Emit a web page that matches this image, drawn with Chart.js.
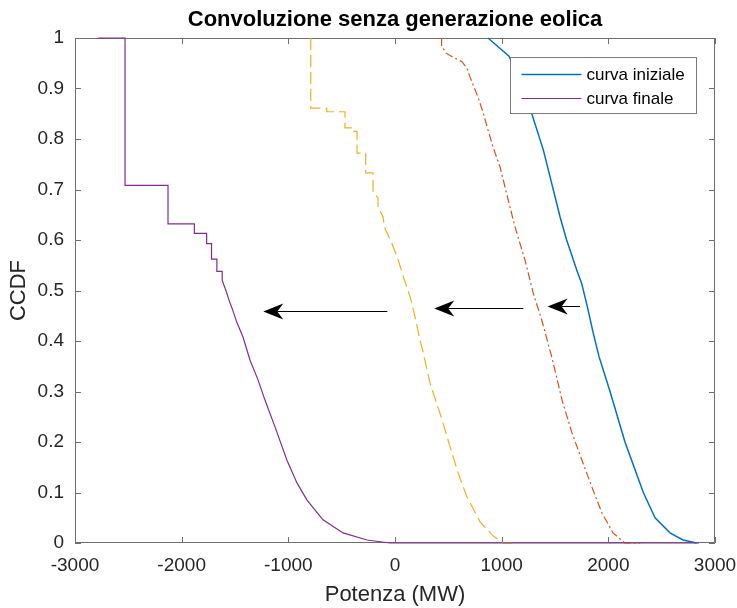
<!DOCTYPE html>
<html>
<head>
<meta charset="utf-8">
<script src="https://cdn.jsdelivr.net/npm/chart.js@4.4.1/dist/chart.umd.min.js"></script>
<style>
    html, body { margin: 0; padding: 0; background: #ffffff; }
</style>
</head>
<body>
<canvas id="ccdf" width="737" height="608"></canvas>
<script>
// Axis ticks
const xTicks = [-3000, -2000, -1000, 0, 1000, 2000, 3000];
const yTicks = [0, 0.1, 0.2, 0.3, 0.4, 0.5, 0.6, 0.7, 0.8, 0.9, 1];

// curva iniziale (blue, solid)
const initialX = [872, 1069, 1180, 1281, 1391, 1469, 1547, 1609, 1703, 1750, 1803, 1859, 1913, 2016, 2156, 2328, 2438, 2578, 2700, 2828];
const initialY = [1, 0.964, 0.915, 0.851, 0.778, 0.712, 0.646, 0.6, 0.541, 0.514, 0.468, 0.415, 0.369, 0.3, 0.2, 0.1, 0.05, 0.02, 0.006, 0];

// first intermediate curve (orange, dash-dot)
const stage1X = [437, 437, 478, 544, 628, 675, 703, 778, 825, 872, 919, 984, 1062, 1125, 1219, 1297, 1375, 1469, 1566, 1659, 1763, 1856, 1941, 2044, 2156, 2300];
const stage1Y = [1, 0.985, 0.97, 0.962, 0.953, 0.94, 0.923, 0.883, 0.853, 0.818, 0.784, 0.745, 0.679, 0.626, 0.56, 0.494, 0.442, 0.369, 0.283, 0.218, 0.158, 0.105, 0.059, 0.02, 0, 0];

// second intermediate curve (yellow, dashed)
const stage2X = [-790, -790, -640, -640, -469, -469, -410, -410, -356, -356, -275, -275, -206, -206, -159, -159, -112, -100, -31, 31, 78, 141, 188, 234, 259, 328, 441, 497, 591, 675, 797, 909, 1013, 1100];
const stage2Y = [1, 0.861, 0.861, 0.854, 0.854, 0.822, 0.822, 0.815, 0.815, 0.772, 0.772, 0.733, 0.733, 0.695, 0.683, 0.665, 0.646, 0.626, 0.594, 0.56, 0.527, 0.488, 0.448, 0.402, 0.382, 0.317, 0.244, 0.204, 0.139, 0.091, 0.042, 0.016, 0, 0];

// curva finale (purple, solid)
const finalX = [-2784, -2531, -2531, -2128, -2128, -1881, -1881, -1766, -1766, -1720, -1720, -1670, -1670, -1620, -1620, -1585, -1556, -1528, -1481, -1425, -1359, -1284, -1219, -1125, -1013, -919, -825, -675, -487, -263, -47, 2850];
const finalY = [1, 1, 0.708, 0.708, 0.632, 0.632, 0.613, 0.613, 0.593, 0.593, 0.562, 0.562, 0.538, 0.538, 0.52, 0.5, 0.481, 0.465, 0.436, 0.408, 0.362, 0.323, 0.283, 0.23, 0.164, 0.119, 0.085, 0.046, 0.02, 0.006, 0, 0];

// shift arrows, in data units
const arrowFrom = [[-72, 0.459], [1203, 0.466], [1734, 0.470]];
const arrowTo = [[-1235, 0.459], [368, 0.466], [1431, 0.470]];

const FONT = "'Liberation Sans', Arial, Helvetica, sans-serif";
const AXIS_COLOR = "#6e6e6e";

function zip(xs, ys) {
    return xs.map((x, i) => ({ x: x, y: ys[i] }));
}

// box + inward ticks on all four sides, drawn under the curves
const framePlugin = {
    id: "frame",
    beforeDatasetsDraw(chart) {
        const { ctx, chartArea: a, scales } = chart;
        const len = 6;
        ctx.save();
        ctx.strokeStyle = AXIS_COLOR;
        ctx.lineWidth = 1;
        ctx.beginPath();
        ctx.rect(a.left + 0.5, a.top + 0.5, a.right - a.left - 1, a.bottom - a.top - 1);
        xTicks.forEach((v) => {
            const px = Math.round(scales.x.getPixelForValue(v)) + 0.5;
            ctx.moveTo(px, a.bottom);
            ctx.lineTo(px, a.bottom - len);
            ctx.moveTo(px, a.top);
            ctx.lineTo(px, a.top + len);
        });
        yTicks.forEach((v) => {
            const py = Math.round(scales.y.getPixelForValue(v)) + 0.5;
            ctx.moveTo(a.left, py);
            ctx.lineTo(a.left + len, py);
            ctx.moveTo(a.right, py);
            ctx.lineTo(a.right - len, py);
        });
        ctx.stroke();
        ctx.restore();
    },
};

// title, legend and arrows drawn on top
const overlayPlugin = {
    id: "overlay",
    afterDraw(chart) {
        const { ctx, chartArea: a, scales } = chart;
        ctx.save();

        // title centred over the plot box
        ctx.fillStyle = "#000";
        ctx.font = "bold 22px " + FONT;
        ctx.textAlign = "center";
        ctx.textBaseline = "middle";
        ctx.fillText("Convoluzione senza generazione eolica", (a.left + a.right) / 2, 20);

        // arrows
        ctx.strokeStyle = "#000";
        ctx.fillStyle = "#000";
        ctx.lineWidth = 1;
        arrowFrom.forEach((from, i) => {
            const x0 = scales.x.getPixelForValue(from[0]);
            const y0 = Math.round(scales.y.getPixelForValue(from[1])) + 0.5;
            const x1 = scales.x.getPixelForValue(arrowTo[i][0]);
            const y1 = Math.round(scales.y.getPixelForValue(arrowTo[i][1])) + 0.5;
            const dx = x1 - x0, dy = y1 - y0;
            const d = Math.hypot(dx, dy);
            const ux = dx / d, uy = dy / d;
            const L = 20, W = 8, notch = 14;
            ctx.beginPath();
            ctx.moveTo(x0, y0);
            ctx.lineTo(x1 - ux * notch, y1 - uy * notch);
            ctx.stroke();
            ctx.beginPath();
            ctx.moveTo(x1, y1);
            ctx.lineTo(x1 - ux * L - uy * W, y1 - uy * L + ux * W);
            ctx.lineTo(x1 - ux * notch, y1 - uy * notch);
            ctx.lineTo(x1 - ux * L + uy * W, y1 - uy * L - ux * W);
            ctx.closePath();
            ctx.fill();
        });

        // legend box in the upper right corner
        const items = chart.data.datasets.filter((ds) => ds.inLegend);
        const boxW = 186, boxH = 56;
        const bx = a.right - 19 - boxW + 0.5, by = a.top + 19 + 0.5;
        ctx.fillStyle = "#fff";
        ctx.fillRect(bx, by, boxW, boxH);
        ctx.strokeStyle = "#7a7a7a";
        ctx.strokeRect(bx, by, boxW, boxH);
        ctx.font = "17px " + FONT;
        ctx.textAlign = "left";
        ctx.textBaseline = "middle";
        items.forEach((ds, i) => {
            const ly = Math.round(by + 16 + i * 24.6) + 0.5;
            ctx.strokeStyle = ds.borderColor;
            ctx.lineWidth = ds.borderWidth;
            ctx.beginPath();
            ctx.moveTo(bx + 11, ly);
            ctx.lineTo(bx + 71, ly);
            ctx.stroke();
            ctx.fillStyle = "#000";
            ctx.fillText(ds.label, bx + 76, ly + 1);
        });

        ctx.restore();
    },
};

new Chart(document.getElementById("ccdf").getContext("2d"), {
    type: "line",
    data: {
        datasets: [
            {
                label: "curva iniziale",
                inLegend: true,
                data: zip(initialX, initialY),
                borderColor: "#0072BD",
                borderWidth: 1.5,
                order: 4,
            },
            {
                label: "",
                data: zip(stage1X, stage1Y),
                borderColor: "#D95319",
                borderWidth: 1.2,
                borderDash: [8, 3, 2, 3],
                order: 3,
            },
            {
                label: "",
                data: zip(stage2X, stage2Y),
                borderColor: "#EDB120",
                borderWidth: 1.2,
                borderDash: [12, 5],
                order: 2,
            },
            {
                label: "curva finale",
                inLegend: true,
                data: zip(finalX, finalY),
                borderColor: "#7E2F8E",
                borderWidth: 1.2,
                order: 1,
            },
        ],
    },
    options: {
        responsive: false,
        animation: false,
        events: [],
        clip: 3,
        elements: {
            point: { radius: 0 },
            line: { tension: 0, fill: false },
        },
        layout: { padding: { top: 38, right: 22, left: 0, bottom: 0 } },
        plugins: {
            legend: { display: false },
            title: { display: false },
            tooltip: { enabled: false },
        },
        scales: {
            x: {
                type: "linear",
                min: -3000,
                max: 3000,
                afterFit: (s) => { s.height = 65; s.paddingLeft = 0; s.paddingRight = 0; },
                afterBuildTicks: (s) => { s.ticks = xTicks.map((v) => ({ value: v })); },
                grid: { display: false, drawTicks: false },
                border: { display: false },
                ticks: {
                    color: "#262626",
                    font: { family: FONT, size: 19 },
                    padding: 11,
                    maxRotation: 0,
                    callback: (v) => String(v),
                },
                title: {
                    display: true,
                    text: "Potenza (MW)",
                    color: "#262626",
                    font: { family: FONT, size: 22 },
                    padding: { top: 0, bottom: 0 },
                },
            },
            y: {
                type: "linear",
                min: 0,
                max: 1,
                afterFit: (s) => { s.width = 75; s.paddingTop = 0; s.paddingBottom = 0; },
                afterBuildTicks: (s) => { s.ticks = yTicks.map((v) => ({ value: v })); },
                grid: { display: false, drawTicks: false },
                border: { display: false },
                ticks: {
                    color: "#262626",
                    font: { family: FONT, size: 19 },
                    padding: 11,
                    callback: (v) => String(+v.toFixed(1)),
                },
                title: {
                    display: true,
                    text: "CCDF",
                    color: "#262626",
                    font: { family: FONT, size: 22 },
                    padding: { top: 6, bottom: 0 },
                },
            },
        },
    },
    plugins: [framePlugin, overlayPlugin],
});
</script>
</body>
</html>
